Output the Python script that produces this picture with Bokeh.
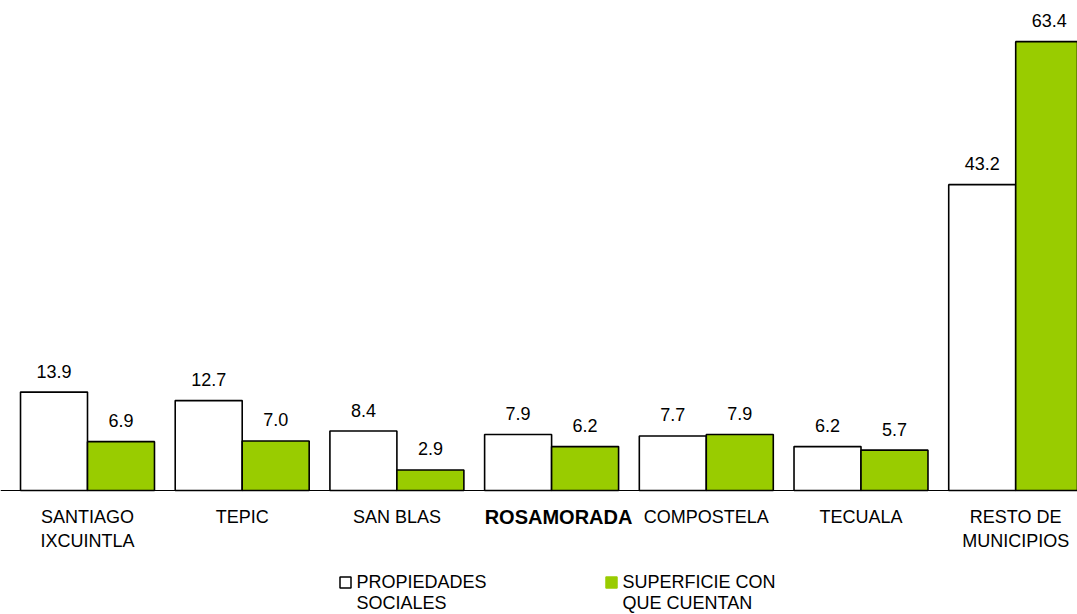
from bokeh.plotting import figure
from bokeh.models import Range1d, Span, ColumnDataSource
from bokeh.transform import dodge
from bokeh.core.properties import value
from bokeh.embed import file_html
from bokeh.resources import INLINE

# ---------------- data ----------------
categories = ["SANTIAGO\nIXCUINTLA", "TEPIC", "SAN BLAS", "ROSAMORADA",
              "COMPOSTELA", "TECUALA", "RESTO DE\nMUNICIPIOS"]
bold_category = "ROSAMORADA"
propiedades = [13.9, 12.7, 8.4, 7.9, 7.7, 6.2, 43.2]
superficie = [6.9, 7.0, 2.9, 6.2, 7.9, 5.7, 63.4]
series_names = ["PROPIEDADES\nSOCIALES", "SUPERFICIE CON\nQUE CUENTAN"]
series_colors = ["#FFFFFF", "#99CC00"]

# ---------------- layout ----------------
W, H = 1077, 614
PX_CAT = 154.7          # pixels per category
PX_UNIT = 7.08          # pixels per value unit
BASE_PX = 490           # baseline, from top of frame
x0 = 0.5 - 87 / PX_CAT
x1 = x0 + W / PX_CAT
y1 = BASE_PX / PX_UNIT
y0 = -(H - BASE_PX) / PX_UNIT
FONT = value("Liberation Sans")


def dx(px):  # frame px -> data x
    return x0 + px / PX_CAT


def dy(py):  # frame px -> data y
    return (BASE_PX - py) / PX_UNIT


p = figure(width=W, height=H, x_range=Range1d(x0, x1), y_range=Range1d(y0, y1),
           output_backend="svg", toolbar_location=None, min_border=0,
           x_axis_location=None, y_axis_location=None)
p.min_border_left = p.min_border_right = p.min_border_top = p.min_border_bottom = 0
p.xgrid.visible = False
p.ygrid.visible = False
p.outline_line_color = None
p.background_fill_color = "white"
p.border_fill_color = "white"

xs = [i + 0.5 for i in range(len(categories))]
src = ColumnDataSource(dict(
    x=xs, cat=categories, prop=propiedades, sup=superficie,
    prop_lbl=[f"{v:.1f}" for v in propiedades],
    sup_lbl=[f"{v:.1f}" for v in superficie],
))

BW = 0.433
OFF = BW / 2
p.vbar(x=dodge("x", -OFF, range=p.x_range), top="prop", bottom=0, width=BW,
       fill_color=series_colors[0], line_color="black", line_width=1.6, source=src)
p.vbar(x=dodge("x", OFF, range=p.x_range), top="sup", bottom=0, width=BW,
       fill_color=series_colors[1], line_color="black", line_width=1.6, source=src)

p.add_layout(Span(location=0, dimension="width", line_color="black", line_width=1))

for off, col in [(-OFF, "prop"), (OFF, "sup")]:
    p.text(x=dodge("x", off, range=p.x_range), y=col, text=col + "_lbl", source=src,
           text_align="center", text_baseline="alphabetic", y_offset=-21,
           text_font=FONT, text_font_size="18px", text_color="black")

# category labels
norm = [i for i, c in enumerate(categories) if c != bold_category]
bold = [i for i, c in enumerate(categories) if c == bold_category]
src_n = ColumnDataSource(dict(x=[xs[i] for i in norm], y=[0] * len(norm),
                              t=[categories[i] for i in norm]))
src_b = ColumnDataSource(dict(x=[xs[i] + 0.045 for i in bold], y=[0] * len(bold),
                              t=[categories[i] for i in bold]))
p.text(x="x", y="y", text="t", source=src_n, text_align="center", text_baseline="top",
       y_offset=16, line_height=1.2, text_font=FONT, text_font_size="18px",
       text_color="black")
p.text(x="x", y="y", text="t", source=src_b, text_align="center", text_baseline="top",
       y_offset=15, text_font=FONT, text_font_size="20px", text_font_style="bold",
       text_color="black")

# legend
leg_sq_x = [dx(345), dx(611)]
leg_tx_x = [dx(356), dx(622)]
p.scatter(x=leg_sq_x, y=[dy(582)] * 2, marker="square", size=11,
          fill_color=series_colors, line_color=["black", series_colors[1]], line_width=1.5)
p.text(x=leg_tx_x, y=[dy(571)] * 2, text=series_names, text_align="left",
       text_baseline="top", line_height=1.05, text_font=FONT, text_font_size="18px",
       text_color="black")

open("out.html", "w").write(file_html(p, INLINE))
